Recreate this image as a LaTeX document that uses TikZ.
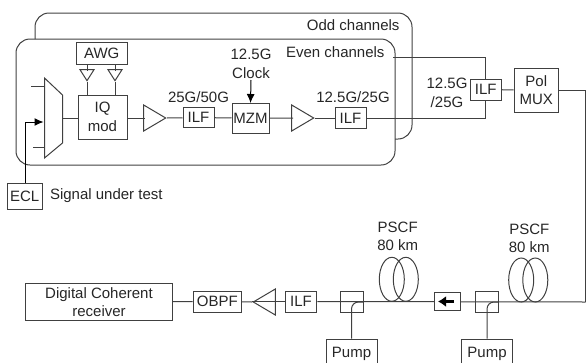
\documentclass[tikz,border=0pt]{standalone}
\usepackage{fontspec}
\setmainfont{Liberation Sans}
\usetikzlibrary{positioning,shapes.geometric,arrows.meta}
\definecolor{inkline}{gray}{0.25}
\begin{document}
\begin{tikzpicture}[x=1pt,y=-1pt,line width=1pt,draw=inkline,text=black!85,
every node/.style={inner sep=0pt, align=center, font=\fontsize{15}{18.5}\selectfont},
box/.style={shape=rectangle, draw=inkline},
amp/.style={shape=isosceles triangle, draw=inkline, isosceles triangle stretches, minimum width=26pt, minimum height=22pt, anchor=apex},
minamp/.style={amp, shape border rotate=-90, minimum width=14pt, minimum height=11pt},
coil/.style={shape=ellipse, draw=inkline, minimum width=25pt, minimum height=44pt},
tip/.style={-{Latex[length=9pt,width=8pt]}, draw=black}]
\clip (0,0) rectangle (586,362);
\coordinate (oddstart) at (35,39);
\coordinate (oddend) at (395,139);
\draw[rounded corners=14pt] (oddstart) -- (35,13) -- (412,13) -- (412,139) -- (oddend);
\node (evenbox)[box, rounded corners=14pt, minimum width=379pt, minimum height=126pt] at (205.5,102) {};
\node (oddlabel)[anchor=east] at (400,25) {Odd channels};
\node (evenlabel)[anchor=east] at (385,52) {Even channels};
\draw (44.5,78) coordinate (muxa) -- (62.5,95) -- (62.5,143) -- (44.5,158) -- cycle;
\coordinate (muxout) at (62.5,118);
\coordinate (muxin) at (43.5,122);
\coordinate (muxup) at (31,86);
\coordinate (muxdown) at (33,147);
\draw (muxup) -- (44.5,86);
\draw (muxdown) -- (44.5,147);
\node (ecl)[box, minimum width=34.5pt, minimum height=26pt] at (24.75,196) {ECL};
\node (sut)[right=7pt of ecl] {Signal under test};
\node (iqmod)[box, minimum width=49pt, minimum height=44pt] at (102.5,117) {IQ\\mod};
\node (awg)[box, minimum width=50.5pt, minimum height=21.5pt] at (101.75,53.25) {AWG};
\node (awgampa)[minamp] at (87,82) {};
\node (awgampb)[minamp] at (115,82) {};
\node (ampa)[amp] at (167,118) {};
\node (ilfa)[box, minimum width=31pt, minimum height=20pt] at (198.5,117.5) {ILF};
\node (mzm)[box, minimum width=37pt, minimum height=29.5pt] at (250.5,118.25) {MZM};
\node (ampb)[amp] at (315,118) {};
\node (ilfb)[box, minimum width=31pt, minimum height=20.5pt] at (350.5,118) {ILF};
\node (ilfc)[box, minimum width=31.5pt, minimum height=21pt] at (485.75,89.5) {ILF};
\node (polmux)[box, minimum width=44.5pt, minimum height=44.5pt] at (536.25,90.25) {Pol\\MUX};
\node (ratea)[above=4pt of ilfa] {25G/50G};
\node (rateb) at (353,97) {12.5G/25G};
\node (ratec) at (447,93) {12.5G\\/25G};
\node (clock) at (251,64) {12.5G\\Clock};
\coordinate (clockfoot) at (251,80);
\coordinate (evenout) at (393,57);
\coordinate (linecorner) at (585.5,302);
\node (receiver)[box, minimum width=147pt, minimum height=37pt] at (99,302) {Digital Coherent\\receiver};
\node (obpf)[box, minimum width=48.5pt, minimum height=21pt] at (217.25,301.5) {OBPF};
\node (ampc)[amp, shape border rotate=180] at (252,302) {};
\node (ilfd)[box, minimum width=31.5pt, minimum height=21pt] at (301,301.5) {ILF};
\node (couplera)[box, minimum width=22.5pt, minimum height=21.5pt] at (352,302) {};
\node (couplerb)[box, minimum width=22.5pt, minimum height=21.5pt] at (487,302) {};
\node (pumpa)[box, minimum width=51pt, minimum height=30pt] at (351.5,354) {Pump};
\node (pumpb)[box, minimum width=51pt, minimum height=30pt] at (487,354) {Pump};
\node (coila)[coil] at (391.8,279.3) {};
\node (coilb)[coil] at (405.8,279.3) {};
\node (coilc)[coil] at (521.2,280) {};
\node (coild)[coil] at (535.3,280) {};
\node (pscfa) at (397.7,236.5) {PSCF\\80 km};
\node (pscfb) at (529.3,238.5) {PSCF\\80 km};
\draw (awg.south -| awgampa) -- (awgampa.north |- 0,71);
\draw (awg.south -| awgampb) -- (awgampb.north |- 0,71);
\draw (awgampa.apex) -- (iqmod.north -| awgampa);
\draw (awgampb.apex) -- (iqmod.north -| awgampb);
\draw (muxout) -- (iqmod.west |- muxout);
\draw (iqmod.east |- ampa.apex) -- (144.5,118);
\draw (ampa.apex) -- (ilfa);
\draw (ilfa) -- (mzm);
\draw (mzm) -- (293,118);
\draw (ampb.apex) -- (ilfb);
\draw[tip] (clockfoot) -- (mzm.north);
\draw[tip] (ecl.north -| 25.5,0) |- (muxin);
\draw (evenout) -| (ilfc.north);
\draw (ilfb) -| (ilfc.south);
\draw (ilfc) -- (polmux);
\draw (polmux.east) -| (linecorner);
\draw (linecorner) -- (ilfd.east);
\draw (ilfd) -- (ampc.west |- ilfd);
\draw (ampc.apex) -- (obpf);
\draw (obpf) -- (receiver);
\draw[rounded corners=7pt] (pumpa.north) |- (couplera.east);
\draw[rounded corners=7pt] (pumpb.north) |- (couplerb.east);
\node (isolator)[box, fill=white, minimum width=26pt, minimum height=17.5pt] at (447,301.5) {};
\draw[line width=3pt, draw=black, -{Latex[length=8pt,width=11pt]}] (isolator.center) ++(7,0) -- ++(-16,0);
\end{tikzpicture}
\end{document}
